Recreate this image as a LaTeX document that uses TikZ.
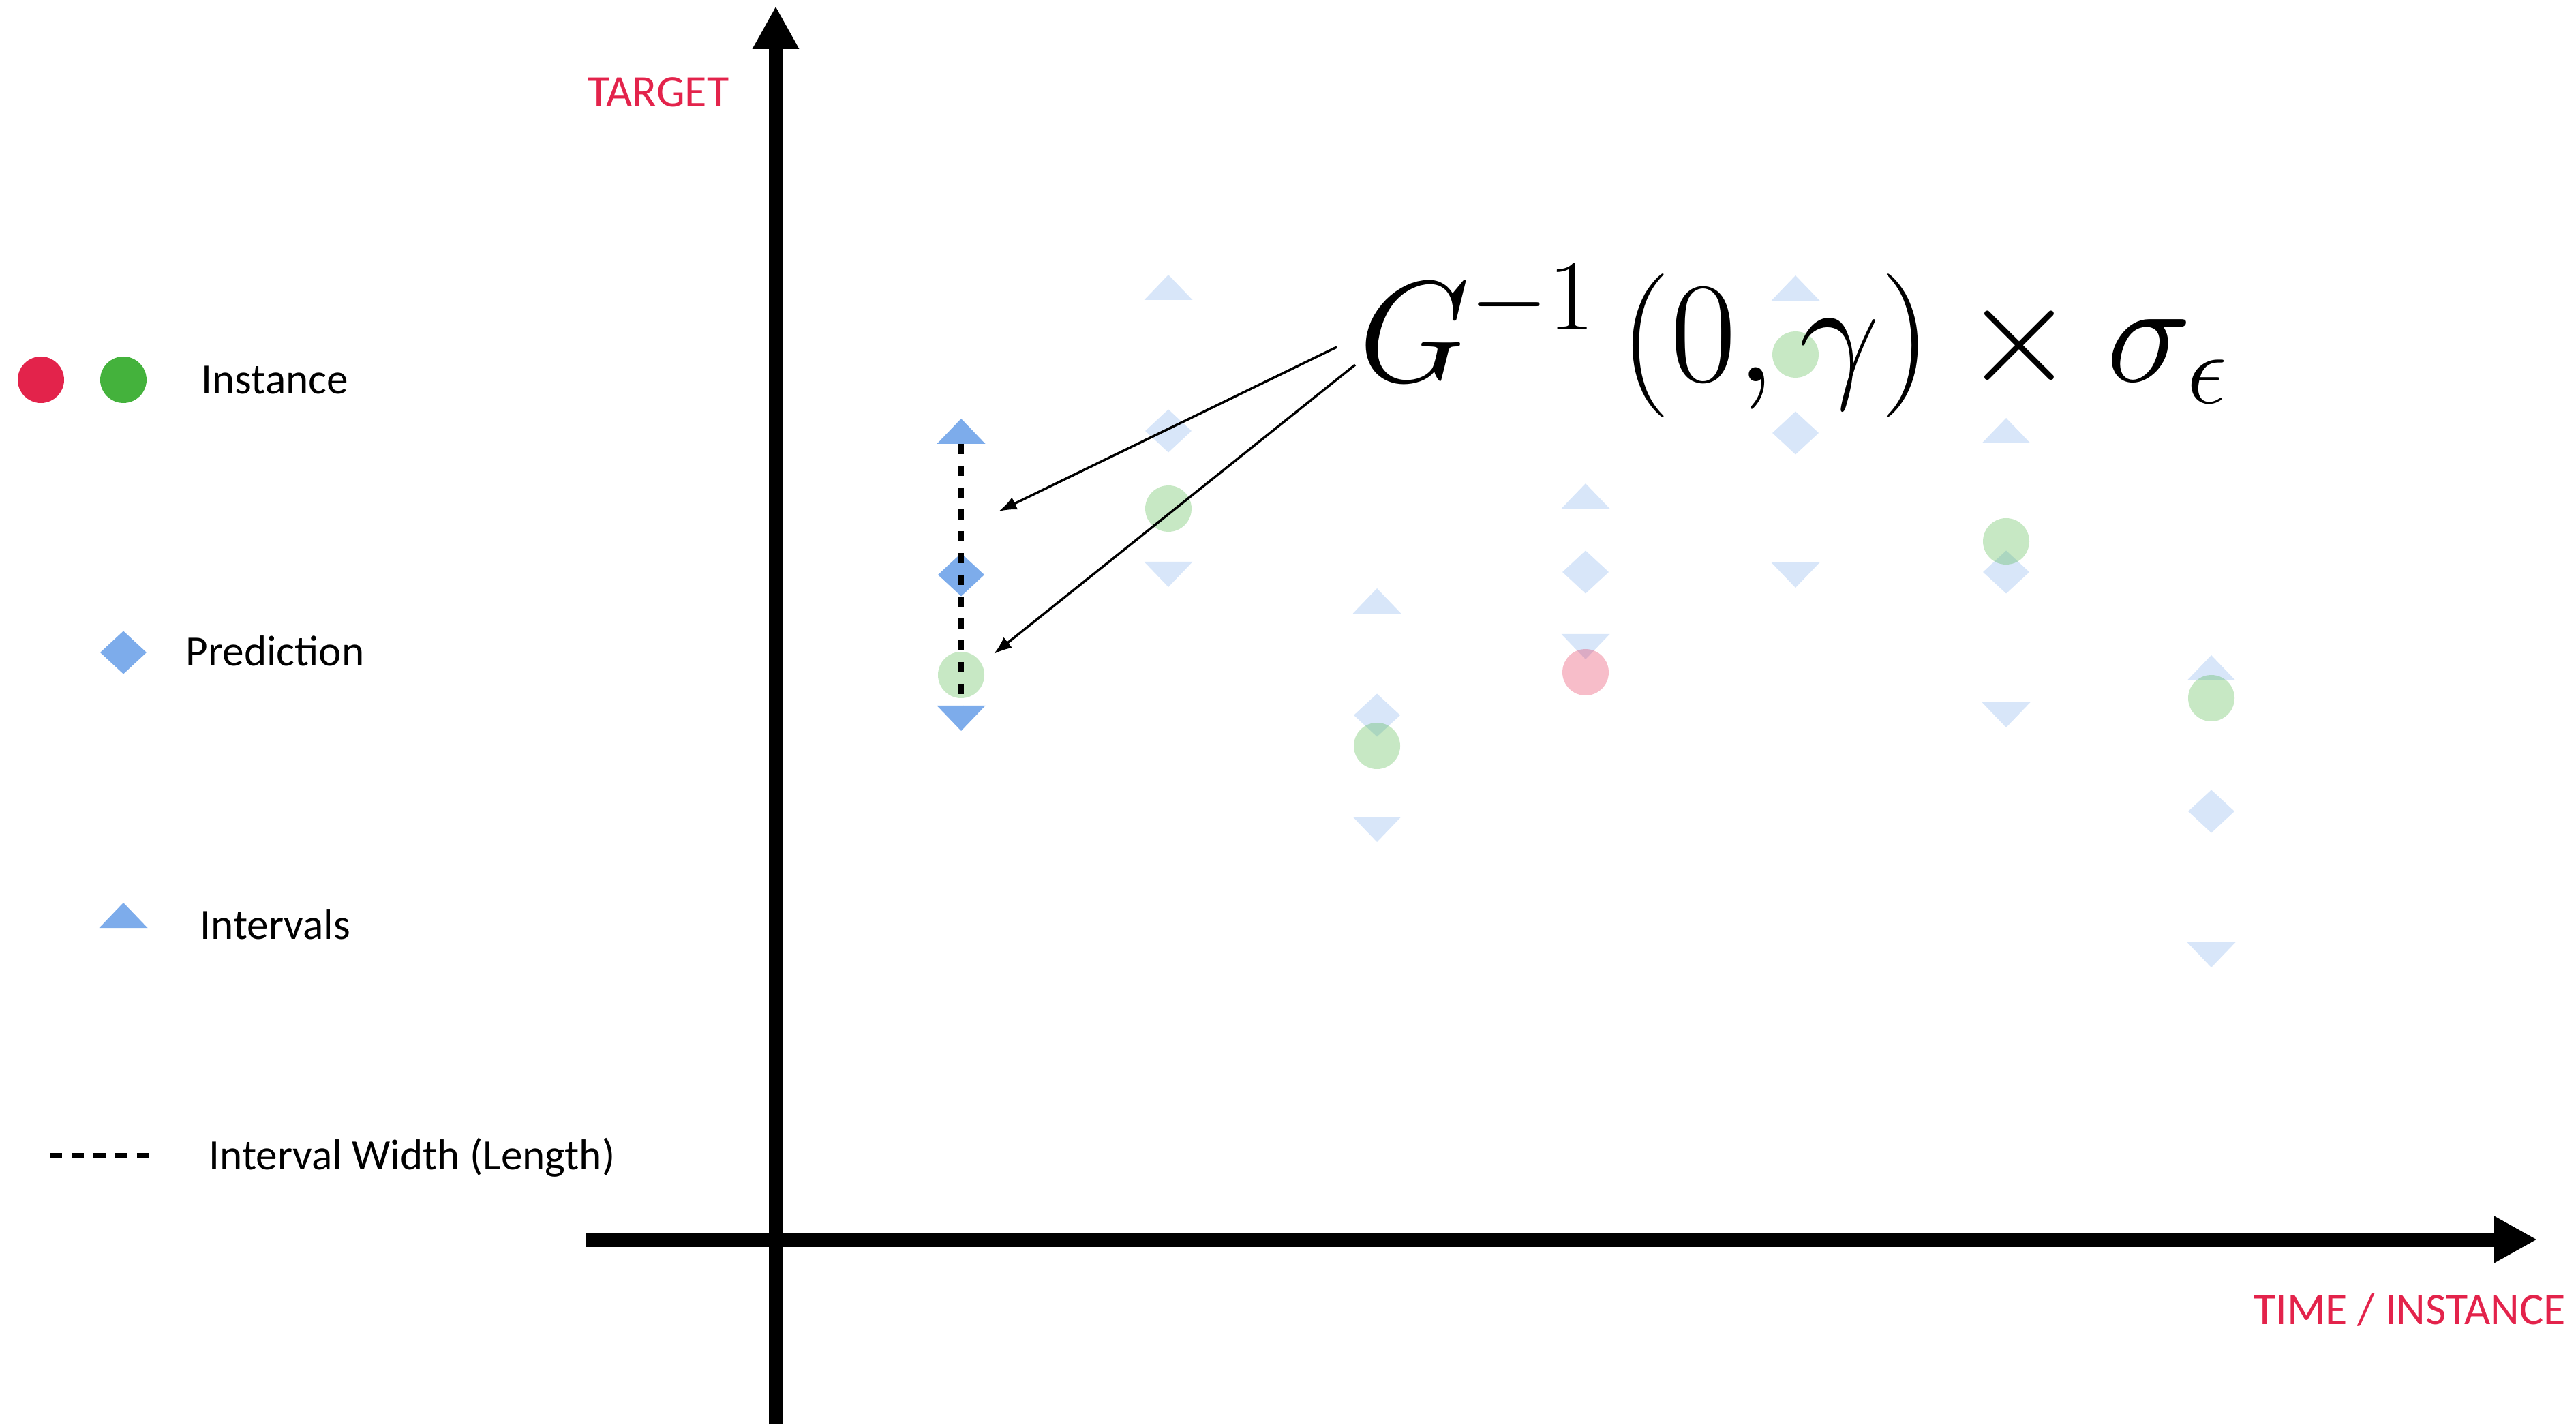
\documentclass[tikz,border=0pt]{standalone}
\usepackage{fix-cm}
\usepackage[no-math]{fontspec}
\setmainfont{Carlito}
\usepackage{amsmath}
\usetikzlibrary{arrows.meta}

\definecolor{tgtred}{RGB}{227,35,75}
\definecolor{ptblue}{RGB}{125,172,235}
\definecolor{ptgreen}{RGB}{68,178,60}

\begin{document}
\begin{tikzpicture}[>=Latex,
  uptri/.style={insert path={++(-0.355,0) -- ++(0.71,0) -- ++(-0.355,0.37) -- cycle}},
  downtri/.style={insert path={++(-0.355,0) -- ++(0.71,0) -- ++(-0.355,-0.37) -- cycle}},
  diam/.style={insert path={++(-0.34,0) -- ++(0.34,0.315) -- ++(0.34,-0.315) -- ++(-0.34,-0.315) -- cycle}},
  faded/.style={opacity=0.3},
  lbl/.style={font=\fontsize{18}{21}\selectfont, inner sep=0pt, anchor=base west},
  axlbl/.style={font=\fontsize{18.8}{22}\selectfont, inner sep=0pt, anchor=base, text=tgtred}]

\useasboundingbox (0,0) rectangle (37.79,20.89);

% legenda
\fill[tgtred] (0.60,15.32) circle (0.34);
\fill[ptgreen] (1.81,15.32) circle (0.34);
\node[lbl] (instance) at (2.95,15.11) {Instance};
\fill[ptblue] (1.81,11.32) [diam];
\node[lbl] (prediction) at (2.72,11.12) {Prediction};
\fill[ptblue] (1.81,7.28) [uptri];
\node[lbl] (intervals) at (2.93,7.12) {Intervals};
\draw[line width=0.07cm, dash pattern=on 0.18cm off 0.14cm] (0.73,3.95) -- (2.19,3.95);
\node[lbl] (width) at (3.06,3.74) {Interval Width (Length)};

% assi
\draw[line width=0.21cm, -{Triangle[length=0.63cm, width=0.64cm]}] (11.38,0) -- (11.38,20.80);
\draw[line width=0.21cm, -{Triangle[length=0.63cm, width=0.64cm]}] (8.59,2.71) -- (37.22,2.71);
\node[axlbl] (target) at (9.66,19.32) {TARGET};
\node[axlbl] (time) at (35.35,1.47) {TIME / INSTANCE};

% punti sbiaditi
\fill[faded, ptblue] (17.14,16.49) [uptri]; % colonna 2
\fill[faded, ptblue] (17.14,14.57) [diam];
\fill[faded, ptgreen] (17.14,13.43) circle (0.34);
\fill[faded, ptblue] (17.14,12.65) [downtri];

\fill[faded, ptblue] (20.20,11.89) [uptri]; % colonna 3
\fill[faded, ptblue] (20.20,10.40) [diam];
\fill[faded, ptgreen] (20.20,9.95) circle (0.34);
\fill[faded, ptblue] (20.20,8.91) [downtri];

\fill[faded, ptblue] (23.26,13.43) [uptri]; % colonna 4
\fill[faded, ptblue] (23.26,12.50) [diam];
\fill[faded, ptblue] (23.26,11.59) [downtri];
\fill[faded, tgtred] (23.26,11.03) circle (0.34);

\fill[faded, ptblue] (26.34,16.48) [uptri]; % colonna 5
\fill[faded, ptblue] (26.34,14.54) [diam];
\fill[faded, ptgreen] (26.34,15.69) circle (0.34);
\fill[faded, ptblue] (26.34,12.64) [downtri];

\fill[faded, ptblue] (29.43,14.39) [uptri]; % colonna 6
\fill[faded, ptblue] (29.43,12.50) [diam];
\fill[faded, ptgreen] (29.43,12.95) circle (0.34);
\fill[faded, ptblue] (29.43,10.59) [downtri];

\fill[faded, ptblue] (32.44,10.91) [uptri]; % colonna 7
\fill[faded, ptblue] (32.44,8.99) [diam];
\fill[faded, ptgreen] (32.44,10.65) circle (0.34);
\fill[faded, ptblue] (32.44,7.07) [downtri];

% primo punto con intervallo
\fill[ptblue] (14.10,14.38) [uptri];
\fill[ptblue] (14.10,12.46) [diam];
\fill[faded, ptgreen] (14.10,10.99) circle (0.34);
\fill[ptblue] (14.10,10.54) [downtri];
\coordinate (top) at (14.10,14.38);
\coordinate (bot) at (14.10,10.54);
\draw[line width=0.08cm, dash pattern=on 0.15cm off 0.17cm] (top) -- (bot); % ampiezza

% formula e frecce
\node[anchor=base west, inner sep=0pt, font=\fontsize{60}{64}\selectfont] (formula) at (19.93,15.29) {$G^{-1}\,(0,\gamma)\times\sigma_{\epsilon}$};
\coordinate (a1) at (19.61,15.80);
\coordinate (a2) at (19.88,15.54);
\coordinate (t1) at (14.65,13.39);
\coordinate (t2) at (14.58,11.30);
\draw[->, line width=1pt] (a1) -- (t1);
\draw[->, line width=1pt] (a2) -- (t2);

\end{tikzpicture}
\end{document}
